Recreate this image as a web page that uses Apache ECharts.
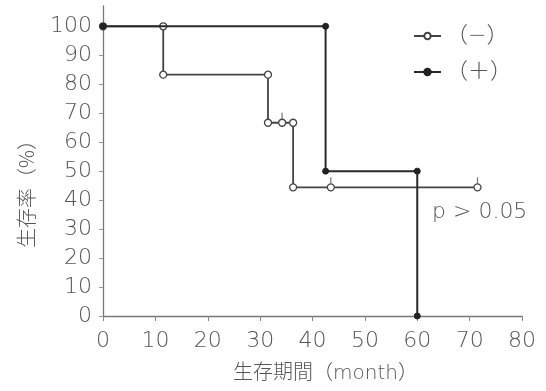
<!DOCTYPE html>
<html>
<head>
<meta charset="utf-8">
<script src="https://cdn.jsdelivr.net/npm/echarts@6/dist/echarts.min.js"></script>
<style>html,body{margin:0;padding:0;background:#fff}#c{width:546px;height:391px}</style>
</head>
<body>
<div id="c"></div>
<script>
// (−) group: step-function corner points (time in months, survival %)
const negTimes = [0, 11.5, 11.5, 31.5, 31.5, 34.2, 36.3, 36.3, 43.5, 71.5];
const negSurv  = [100, 100, 83.3, 83.3, 66.7, 66.7, 66.7, 44.4, 44.4, 44.4];
// (−) censored observations
const negCensorTimes = [34.2, 43.5, 71.5];
const negCensorSurv  = [66.7, 44.4, 44.4];
// (+) group
const posTimes = [0, 42.5, 42.5, 60, 60];
const posSurv  = [100, 100, 50, 50, 0];
// axis ticks
const xTicks = [0, 10, 20, 30, 40, 50, 60, 70, 80];
const yTicks = [0, 10, 20, 30, 40, 50, 60, 70, 80, 90, 100];
const seriesNames = ['（−）', '（＋）'];
const pText = 'p > 0.05';

const zip = (a, b) => a.map((v, i) => [v, b[i]]);
const font = '"DejaVu Sans", "Noto Sans CJK JP", sans-serif';
const labelColor = '#555';

const chart = echarts.init(document.getElementById('c'), null, {renderer: 'canvas'});
chart.setOption({
  animation: false,
  backgroundColor: '#fff',
  grid: {left: 103, right: 24, top: 6, bottom: 75},
  xAxis: {
    type: 'value', min: 0, max: 80, interval: 10,
    name: '生存期間（month）', nameLocation: 'middle', nameGap: 48,
    nameTextStyle: {fontSize: 20, color: labelColor, fontFamily: font, fontWeight: 200, padding: [0, 0, 0, 26]},
    axisLine: {show: true, lineStyle: {color: '#777', width: 1.3}},
    axisTick: {show: true, inside: false, length: 5, lineStyle: {color: '#888'}},
    axisLabel: {fontSize: 22, color: labelColor, fontFamily: font, margin: 14, fontWeight: 200},
    splitLine: {show: false}
  },
  yAxis: {
    type: 'value', min: 0, max: 107,
    axisLine: {show: true, lineStyle: {color: '#777', width: 1.3}},
    axisTick: {show: true, length: 4, customValues: yTicks, lineStyle: {color: '#999'}},
    axisLabel: {fontSize: 22, color: labelColor, fontFamily: font, margin: 11, customValues: yTicks, fontWeight: 200},
    splitLine: {show: false}
  },
  legend: {
    orient: 'vertical', left: 408, top: 20, itemGap: 14,
    itemWidth: 27, itemHeight: 8, itemStyle: {},
    textStyle: {fontSize: 22, color: labelColor, fontFamily: font, fontWeight: 200},
    data: seriesNames
  },
  graphic: [
    {type: 'text', left: 16, top: 130, rotation: Math.PI / 2,
     style: {text: '生存率（%）', fill: labelColor, font: '200 20px "Noto Sans CJK JP", sans-serif'}},
    {type: 'text', left: 432, top: 201,
     style: {text: pText, fill: labelColor, font: '200 22px "DejaVu Sans", sans-serif'}}
  ],
  series: [
    {
      name: seriesNames[0], type: 'line', data: zip(negTimes, negSurv),
      symbol: 'circle', symbolSize: 7, showAllSymbol: true,
      lineStyle: {color: '#444', width: 1.8},
      itemStyle: {color: '#fff', borderColor: '#444', borderWidth: 1.3},
      z: 2
    },
    {
      name: 'censor', type: 'scatter', data: zip(negCensorTimes, negCensorSurv),
      symbol: 'rect', symbolSize: [1.2, 6], symbolOffset: [0, -7],
      itemStyle: {color: '#555'}, z: 2
    },
    {
      name: seriesNames[1], type: 'line', data: zip(posTimes, posSurv),
      symbol: 'circle', symbolSize: 6, showAllSymbol: true,
      lineStyle: {color: '#2a2a2a', width: 2},
      itemStyle: {color: '#222', borderColor: '#222', borderWidth: 1},
      z: 3
    }
  ]
});
</script>
</body>
</html>
